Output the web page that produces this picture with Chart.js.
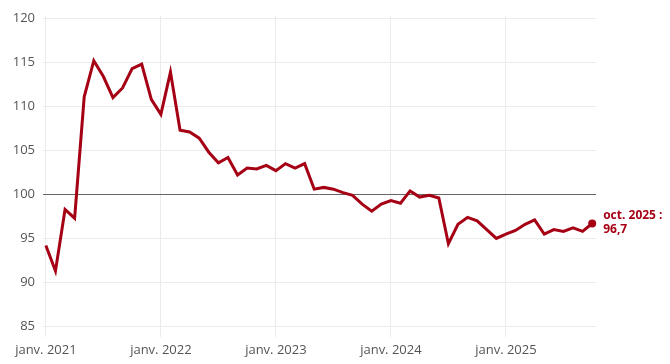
<!DOCTYPE html>
<html>
<head>
<meta charset="utf-8">
<script src="https://cdn.jsdelivr.net/npm/chart.js@4/dist/chart.umd.min.js"></script>
<style>
  html, body { margin: 0; padding: 0; background: #fff; }
  #wrap { width: 670px; height: 364px; }
</style>
</head>
<body>
<div id="wrap"><canvas id="graphique"></canvas></div>
<script>
// mois de janv. 2021 à oct. 2025
const moisNoms = ["janv.", "févr.", "mars", "avr.", "mai", "juin", "juil.", "août", "sept.", "oct.", "nov.", "déc."];
const annees = [2021, 2022, 2023, 2024, 2025];

const valeurs = [
    94.2, 91.3, 98.3, 97.3, 111.1, 115.2, 113.4, 111.0, 112.1, 114.3, 114.8, 110.8,
    109.1, 113.9, 107.3, 107.1, 106.4, 104.8, 103.6, 104.2, 102.2, 103.0, 102.9, 103.3,
    102.7, 103.5, 103.0, 103.5, 100.6, 100.8, 100.6, 100.2, 99.9, 98.9, 98.1, 98.9,
    99.3, 99.0, 100.4, 99.7, 99.9, 99.6, 94.4, 96.6, 97.4, 97.0, 96.0, 95.0,
    95.5, 95.9, 96.6, 97.1, 95.5, 96.0, 95.8, 96.2, 95.8, 96.7
];

const ticksY = [85, 90, 95, 100, 105, 110, 115, 120];
const ticksX = [0, 12, 24, 36, 48];
const etiquettesX = ["janv. 2021", "janv. 2022", "janv. 2023", "janv. 2024", "janv. 2025"];

const mois = valeurs.map((_, i) => moisNoms[i % 12] + " " + annees[Math.floor(i / 12)]);
const points = valeurs.map((v, i) => ({ x: i, y: v }));

const rouge = "#a50014";
const police = "'Open Sans', sans-serif";

// étiquette de la dernière valeur
const etiquetteFin = {
    id: "etiquetteFin",
    afterDatasetsDraw(chart) {
        const meta = chart.getDatasetMeta(0);
        const dernier = meta.data[meta.data.length - 1];
        const i = valeurs.length - 1;
        const c = chart.ctx;
        c.save();
        c.fillStyle = rouge;
        c.font = "bold 12px " + police;
        c.textAlign = "left";
        c.textBaseline = "middle";
        c.fillText(mois[i] + " :", dernier.x + 11, dernier.y - 8);
        c.fillText(valeurs[i].toFixed(1).replace(".", ","), dernier.x + 11, dernier.y + 6);
        c.restore();
    }
};

new Chart(document.getElementById("graphique"), {
    type: "line",
    data: {
        datasets: [{
            data: points,
            borderColor: rouge,
            backgroundColor: rouge,
            borderWidth: 3,
            tension: 0,
            clip: false,
            pointRadius: ctx => ctx.dataIndex === valeurs.length - 1 ? 4 : 0,
            pointBorderWidth: 0,
            pointHoverRadius: 0
        }]
    },
    options: {
        responsive: true,
        maintainAspectRatio: false,
        animation: false,
        layout: { padding: { top: 13, right: 74, left: 0, bottom: 0 } },
        plugins: {
            legend: { display: false },
            tooltip: { enabled: false }
        },
        scales: {
            x: {
                type: "linear",
                min: -0.3,
                max: 57.4,
                afterBuildTicks: axis => { axis.ticks = ticksX.map(v => ({ value: v })); },
                afterFit: axis => { axis.height = 27; },
                grid: { color: "#ebebeb", drawTicks: false },
                border: { display: false },
                ticks: {
                    padding: 5,
                    maxRotation: 0,
                    color: "#555",
                    font: { family: police, size: 13 },
                    callback: v => etiquettesX[ticksX.indexOf(v)]
                }
            },
            y: {
                min: 83.8,
                max: 120.3,
                afterBuildTicks: axis => { axis.ticks = ticksY.map(v => ({ value: v })); },
                afterFit: axis => { axis.width = 43; },
                grid: {
                    color: ctx => ctx.tick && ctx.tick.value === 100 ? "#666" : "#ebebeb",
                    lineWidth: 1,
                    drawTicks: false
                },
                border: { display: false },
                ticks: {
                    padding: 8,
                    color: "#555",
                    font: { family: police, size: 13 }
                }
            }
        }
    },
    plugins: [etiquetteFin]
});
</script>
</body>
</html>
